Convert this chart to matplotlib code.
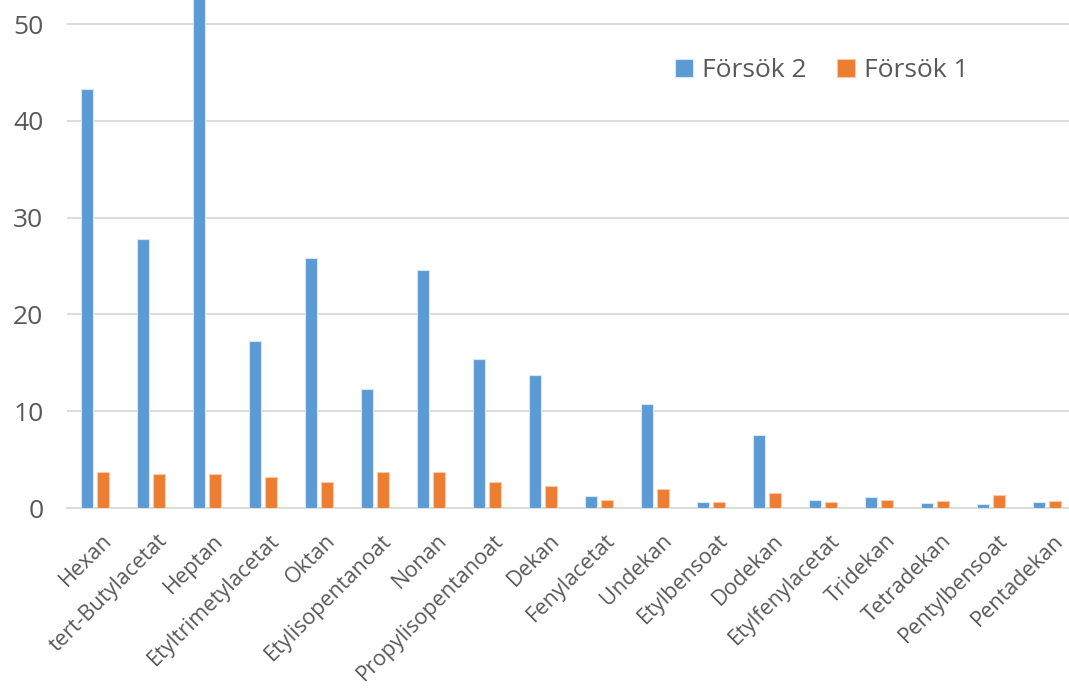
import matplotlib.pyplot as plt
import matplotlib.transforms as mtransforms
import numpy as np

plt.rcParams['font.family'] = ['Open Sans', 'DejaVu Sans']

namn = ["Hexan", "tert-Butylacetat", "Heptan", "Etyltrimetylacetat", "Oktan",
        "Etylisopentanoat", "Nonan", "Propylisopentanoat", "Dekan", "Fenylacetat",
        "Undekan", "Etylbensoat", "Dodekan", "Etylfenylacetat", "Tridekan",
        "Tetradekan", "Pentylbensoat", "Pentadekan"]
forsok2 = [43.3, 27.8, 55.0, 17.3, 25.8, 12.3, 24.6, 15.4, 13.7, 1.2,
           10.7, 0.6, 7.5, 0.87, 1.15, 0.52, 0.42, 0.62]
forsok1 = [3.7, 3.5, 3.5, 3.2, 2.7, 3.75, 3.75, 2.65, 2.25, 0.8,
           1.95, 0.6, 1.5, 0.6, 0.8, 0.75, 1.32, 0.75]

fig = plt.figure(figsize=(10.69, 6.9), dpi=100)
# plottytan fortsätter en bit utanför högerkanten
ax = fig.add_axes([67 / 1069, 1 - 508 / 690, 1008 / 1069, 508 / 690])

x = np.arange(len(namn))
b = 0.21
ax.bar(x - 0.14, forsok2, b, color="#5B9BD5", edgecolor="#d6e6f5", linewidth=0.8,
       label="Försök 2", zorder=3)
ax.bar(x + 0.14, forsok1, b, color="#ED7D31", edgecolor="#f7c9a9", linewidth=0.8,
       label="Försök 1", zorder=3)

ax.set_ylim(0, 52.5)
ax.set_xlim(-0.5, len(namn) - 0.5)
ax.set_yticks([0, 10, 20, 30, 40, 50])
ax.yaxis.grid(True, color="#d9d9d9", linewidth=1.3, zorder=0)
for s in ["top", "right", "left"]:
    ax.spines[s].set_visible(False)
ax.spines["bottom"].set_color("#d9d9d9")
ax.spines["bottom"].set_linewidth(1.3)
ax.tick_params(axis="both", length=0, colors="#595959")
ax.tick_params(axis="y", labelsize=19, pad=17)
ax.set_xticks(x)
ax.set_xticklabels(namn, rotation=45, ha="right", rotation_mode="anchor", fontsize=15.6)
ax.tick_params(axis="x", pad=8)

# skjut etiketterna lite åt höger/ned
skift = mtransforms.ScaledTranslation(6 / 100, -11 / 100, fig.dpi_scale_trans)
for lbl in ax.get_xticklabels():
    lbl.set_transform(lbl.get_transform() + skift)

leg = ax.legend(loc="upper left", bbox_to_anchor=(0.58, 0.932), ncol=2, frameon=False,
                fontsize=19, handlelength=0.68, handleheight=0.68, columnspacing=1.14,
                handletextpad=0.34)
for t in leg.get_texts():
    t.set_color("#595959")

fig.savefig("out.png", dpi=100)
